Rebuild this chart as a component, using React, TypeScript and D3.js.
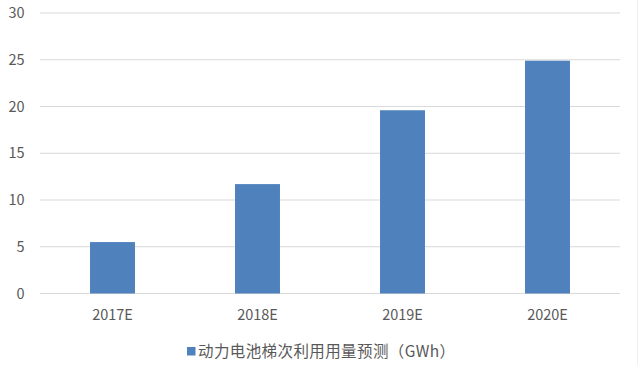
import React from "react";
import * as d3 from "d3";

const categories = ["2017E", "2018E", "2019E", "2020E"];
const values = [5.5, 11.7, 19.6, 24.9];
const yTicks = [0, 5, 10, 15, 20, 25, 30];
const seriesName = "动力电池梯次利用用量预测（GWh）";

const W = 640;
const H = 365;
const FONT = "'Noto Sans CJK SC', 'Microsoft YaHei', sans-serif";

export default function App() {
  const left = 40, right = 620, top = 13, bottom = 293.5;
  const x = d3.scaleBand<string>().domain(categories).range([left, right]).paddingInner(0.69).paddingOuter(0.345);
  const y = d3.scaleLinear().domain([0, 30]).range([bottom, top]);
  return (
    <svg width={W} height={H} style={{ position: "absolute", left: 0, top: 0, background: "#fff" }} fontFamily={FONT}>
      <rect x={0} y={0} width={W} height={H} fill="#fff" />
      {yTicks.map((t) => (
        <g key={t}>
          <line x1={left} x2={right} y1={y(t)} y2={y(t)} stroke="#d9d9d9" strokeWidth={1} />
          <text x={24.5} y={y(t)} dy="0.35em" textAnchor="end" fontSize={14.5} fill="#595959">{t}</text>
        </g>
      ))}
      {categories.map((c, i) => (
        <rect key={c} x={x(c)} y={y(values[i])} width={x.bandwidth()} height={y(0) - y(values[i])} fill="#4f81bd" />
      ))}
      {categories.map((c) => (
        <text key={c} x={(x(c) as number) + x.bandwidth() / 2} y={319.5} textAnchor="middle" fontSize={14.5} fill="#595959">{c}</text>
      ))}
      <rect x={187} y={347} width={8.5} height={8.5} fill="#4f81bd" />
      <text x={198} y={356.5} fontSize={15.5} letterSpacing={0.4} fill="#595959">{seriesName}</text>
      <line x1={637.5} x2={637.5} y1={0} y2={H} stroke="#eeeeee" />
    </svg>
  );
}
